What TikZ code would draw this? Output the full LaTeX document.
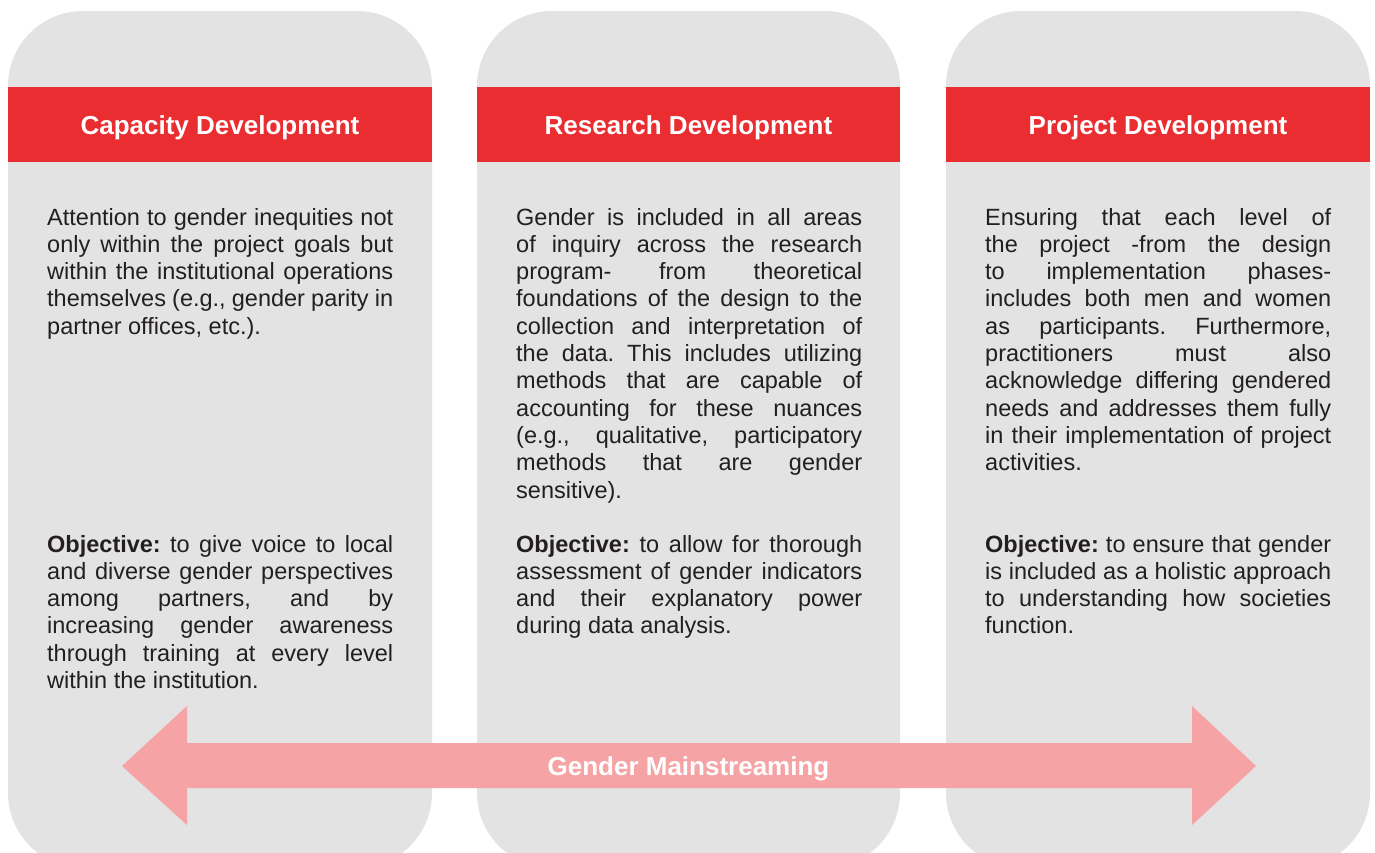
\documentclass[tikz,border=0pt]{standalone}
\usepackage{fontspec}
\setmainfont{Liberation Sans}
\definecolor{panelgray}{HTML}{E2E3E2}
\definecolor{headred}{HTML}{E92D31}
\definecolor{arrowpink}{HTML}{F6A3A5}
\definecolor{ink}{HTML}{231F20}
% one justified line of a fixed-width text block
\newcommand{\jline}[1]{\makebox[\linewidth][s]{#1}}
\begin{document}
\begin{tikzpicture}[x=1pt,y=-1pt,
  panel/.style={fill=panelgray, rounded corners=75pt},
  header/.style={fill=headred},
  headtext/.style={text=white, inner sep=0pt, anchor=base,
    font=\bfseries\fontsize{26}{30}\selectfont},
  bodytext/.style={text=ink, inner sep=0pt, anchor=base west,
    font=\frenchspacing\fontsize{23.5}{27.3}\selectfont},
  mainarrow/.style={fill=arrowpink}
]
\clip (0,0) rectangle (1375,852);

% three columns with their red title bands
\foreach \l/\r in {8/432, 477/900, 946/1370}{
  \fill[panel] (\l,11) rectangle (\r,868);
  \fill[header] (\l,87) rectangle (\r,162);
}

\node[headtext] (capHead) at (220,134) {Capacity Development};
\node[headtext] (resHead) at (688.5,134) {Research Development};
\node[headtext] (proHead) at (1158,134) {Project Development};

% column 1
\node[bodytext] (capText) at (47,225) {\parbox[t]{346pt}{%
\jline{Attention to gender inequities not}\\
\jline{only within the project goals but}\\
\jline{within the institutional operations}\\
\jline{themselves (e.g., gender parity in}\\
partner offices, etc.).}};
\node[bodytext] (capObj) at (47,552) {\parbox[t]{346pt}{%
\jline{\textbf{Objective:} to give voice to local}\\
\jline{and diverse gender perspectives}\\
\jline{among partners, and by}\\
\jline{increasing gender awareness}\\
\jline{through training at every level}\\
within the institution.}};

% column 2
\node[bodytext] (resText) at (516,225) {\parbox[t]{346pt}{%
\jline{Gender is included in all areas}\\
\jline{of inquiry across the research}\\
\jline{program- from theoretical}\\
\jline{foundations of the design to the}\\
\jline{collection and interpretation of}\\
\jline{the data. This includes utilizing}\\
\jline{methods that are capable of}\\
\jline{accounting for these nuances}\\
\jline{(e.g., qualitative, participatory}\\
\jline{methods that are gender}\\
sensitive).}};
\node[bodytext] (resObj) at (516,552) {\parbox[t]{346pt}{%
\jline{\textbf{Objective:} to allow for thorough}\\
\jline{assessment of gender indicators}\\
\jline{and their explanatory power}\\
during data analysis.}};

% column 3
\node[bodytext] (proText) at (985,225) {\parbox[t]{346pt}{%
\jline{Ensuring that each level of}\\
\jline{the project -from the design}\\
\jline{to implementation phases-}\\
\jline{includes both men and women}\\
\jline{as participants. Furthermore,}\\
\jline{practitioners must also}\\
\jline{acknowledge differing gendered}\\
\jline{needs and addresses them fully}\\
\jline{in their implementation of project}\\
activities.}};
\node[bodytext] (proObj) at (985,552) {\parbox[t]{346pt}{%
\jline{\textbf{Objective:} to ensure that gender}\\
\jline{is included as a holistic approach}\\
\jline{to understanding how societies}\\
function.}};

% double-headed arrow across all columns
\fill[mainarrow] (122,766) -- (187,706) -- (187,743) -- (1192,743) -- (1192,706)
  -- (1256,766) -- (1192,825) -- (1192,788) -- (187,788) -- (187,825) -- cycle;
\node[headtext] (mainstream) at (688.5,775) {Gender Mainstreaming};
\end{tikzpicture}
\end{document}
